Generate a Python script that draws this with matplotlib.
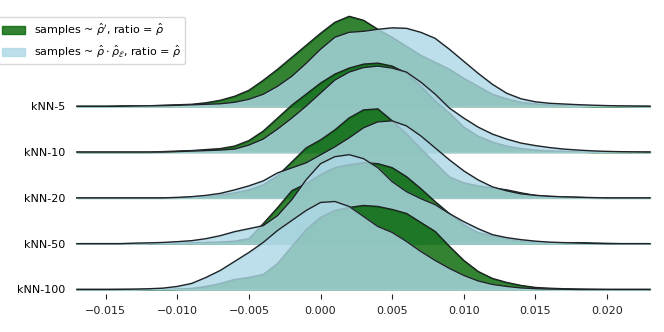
import numpy as np
import matplotlib
matplotlib.use('Agg')
from matplotlib import pyplot as plt
from matplotlib.patches import Patch

# evaluation grid of the density curves
x_grid = np.linspace(-0.017, 0.023, 41)

row_names = ['kNN-5', 'kNN-10', 'kNN-20', 'kNN-50', 'kNN-100']

# ridge heights (same relative scale for all rows)
knn5_green = [0, 0, 0, 0.3, 0.5, 0.5, 1, 1.5, 2, 3.5, 6, 10, 16, 26, 37, 49, 61, 73, 84, 90,
              86, 77, 69, 60, 51, 44, 37, 28, 20, 12, 7.5, 4, 2.5, 1.5, 1, 0.5, 0, 0, 0, 0, 0]
knn5_blue = [0, 0, 0, 0, 0.3, 0.5, 0.7, 1, 1.5, 2, 2.5, 4, 7, 12, 20, 30, 43, 57, 69, 74,
             75, 77, 78.5, 78, 74, 68, 57, 45, 33, 22, 13, 7.5, 4.5, 3, 2.3, 1.6, 1.1, 0.7, 0.4, 0.2, 0]
knn10_green = [0, 0, 0, 0, 0, 0, 0.5, 1, 1.5, 2.5, 3.5, 6, 11.5, 21, 34, 47, 58, 69, 78, 84,
               88, 89, 86, 79, 66, 51, 39, 25, 16, 10, 6, 3.5, 2, 1.2, 0.8, 0.5, 0, 0, 0, 0, 0]
knn10_blue = [0, 0, 0, 0, 0, 0, 0, 0.5, 1, 1.5, 2, 3, 7, 13, 23, 34, 46, 59, 72, 80,
              84.5, 86, 84, 80, 70, 58, 44, 34, 25, 18, 13, 9, 6.5, 4.5, 3, 2, 1.2, 0.7, 0.4, 0.2, 0]
knn20_green = [0, 0, 0, 0, 0, 0, 0, 0, 0.8, 1.5, 3, 5, 8, 13, 22, 36, 50, 58, 68, 80,
               88, 89, 77, 64, 49, 35, 21, 15, 12, 10, 8, 5, 2.5, 1.5, 1, 0.5, 0, 0, 0, 0, 0]
knn20_blue = [0, 0, 0, 0, 0, 0, 0, 0.5, 1.2, 2.5, 4.5, 8, 12, 17, 25, 30, 35, 43, 51, 60,
              70, 76, 77, 72, 62, 50, 38, 27, 18, 11, 7, 4, 2.5, 1.5, 1, 0.6, 0.3, 0, 0, 0, 0]
knn50_green = [0, 0, 0, 0, 0, 0, 0, 0.5, 0.8, 1.2, 1.6, 2.5, 5, 20, 36, 53, 60, 69, 76, 79,
               81, 80, 76, 67, 55, 42, 30, 19, 11, 8, 5, 3, 1.5, 1, 1, 1, 0.5, 0.3, 0, 0, 0]
knn50_blue = [0, 0, 0, 0, 0.5, 0.8, 1.2, 2, 3, 5, 8, 12, 15, 18, 28, 44, 64, 80, 87, 89,
              85, 76, 62, 52, 45, 39, 30, 22, 15, 9, 6, 4, 2.5, 1.5, 1, 0.6, 0.3, 0, 0, 0, 0]
knn100_green = [0, 0, 0, 0, 0, 0, 0, 0.5, 1, 3, 6, 10, 12, 15, 26, 43, 60, 72, 79, 82,
                84, 83, 80, 76, 67, 58, 43, 29, 18, 11, 7, 4, 2, 1.2, 0.7, 0.4, 0.2, 0, 0, 0, 0]
knn100_blue = [0, 0, 0, 0.1, 0.3, 0.7, 1.3, 3, 6, 12, 19, 28, 37, 47, 59, 69, 79, 87, 88, 83,
               73, 63, 57, 48, 38, 29, 21, 14, 8.5, 5, 3, 1.5, 0.8, 0.4, 0.2, 0, 0, 0, 0, 0, 0]

green_rows = [knn5_green, knn10_green, knn20_green, knn50_green, knn100_green]
blue_rows = [knn5_blue, knn10_blue, knn20_blue, knn50_blue, knn100_blue]

xticks = [-0.015, -0.010, -0.005, 0.000, 0.005, 0.010, 0.015, 0.020]
xtick_labels = ['\u22120.015', '\u22120.010', '\u22120.005', '0.000',
                '0.005', '0.010', '0.015', '0.020']

label_green = r'samples ~ $\hat{\rho}^{\prime}$, ratio = $\hat{\rho}$'
label_blue = r'samples ~ $\hat{\rho}\cdot\hat{\rho}_{\mathcal{E}}$, ratio = $\hat{\rho}$'

green_col = 'darkgreen'
blue_col = 'lightblue'
line_col = '#1f2326'
alpha = 0.8
row_height = 45.8   # ridge height units per row

fig = plt.figure(figsize=(6.64, 3.32), dpi=100)
ax = fig.add_axes([77/664., 0.113, 573/664., 0.7737])

nrow = len(row_names)
for i in range(nrow):
    off = nrow - 1 - i
    g = off + np.array(green_rows[i]) / row_height
    b = off + np.array(blue_rows[i]) / row_height
    ax.fill_between(x_grid, off, g, color=green_col, alpha=alpha, lw=1,
                    zorder=10*i+1, clip_on=False)
    ax.plot(x_grid, g, color=line_col, lw=1, zorder=10*i+2, clip_on=False)
    ax.fill_between(x_grid, off, b, color=blue_col, alpha=alpha, lw=1,
                    zorder=10*i+3, clip_on=False)
    ax.plot(x_grid, b, color=line_col, lw=1, zorder=10*i+4, clip_on=False)

ax.set_xlim(-0.017, 0.023)
ax.set_ylim(-0.11, 5.5)
ax.set_yticks([nrow - 1 - i for i in range(nrow)])
ax.set_yticklabels(row_names, fontsize=8)
ax.tick_params(axis='y', length=0, pad=8.5)
ax.set_xticks(xticks)
ax.set_xticklabels(xtick_labels, fontsize=8)
ax.tick_params(axis='x', length=3.5, width=0.8, pad=4.5, colors='#222222')
for sp in ax.spines.values():
    sp.set_visible(False)
ax.patch.set_alpha(0)

handles = [Patch(color=green_col, alpha=alpha), Patch(color=blue_col, alpha=alpha)]
fig.legend(handles, [label_green, label_blue], loc='upper left', fontsize=8,
           bbox_to_anchor=(-0.003, 0.948), borderaxespad=0)

fig.savefig('out.png', dpi=100)
